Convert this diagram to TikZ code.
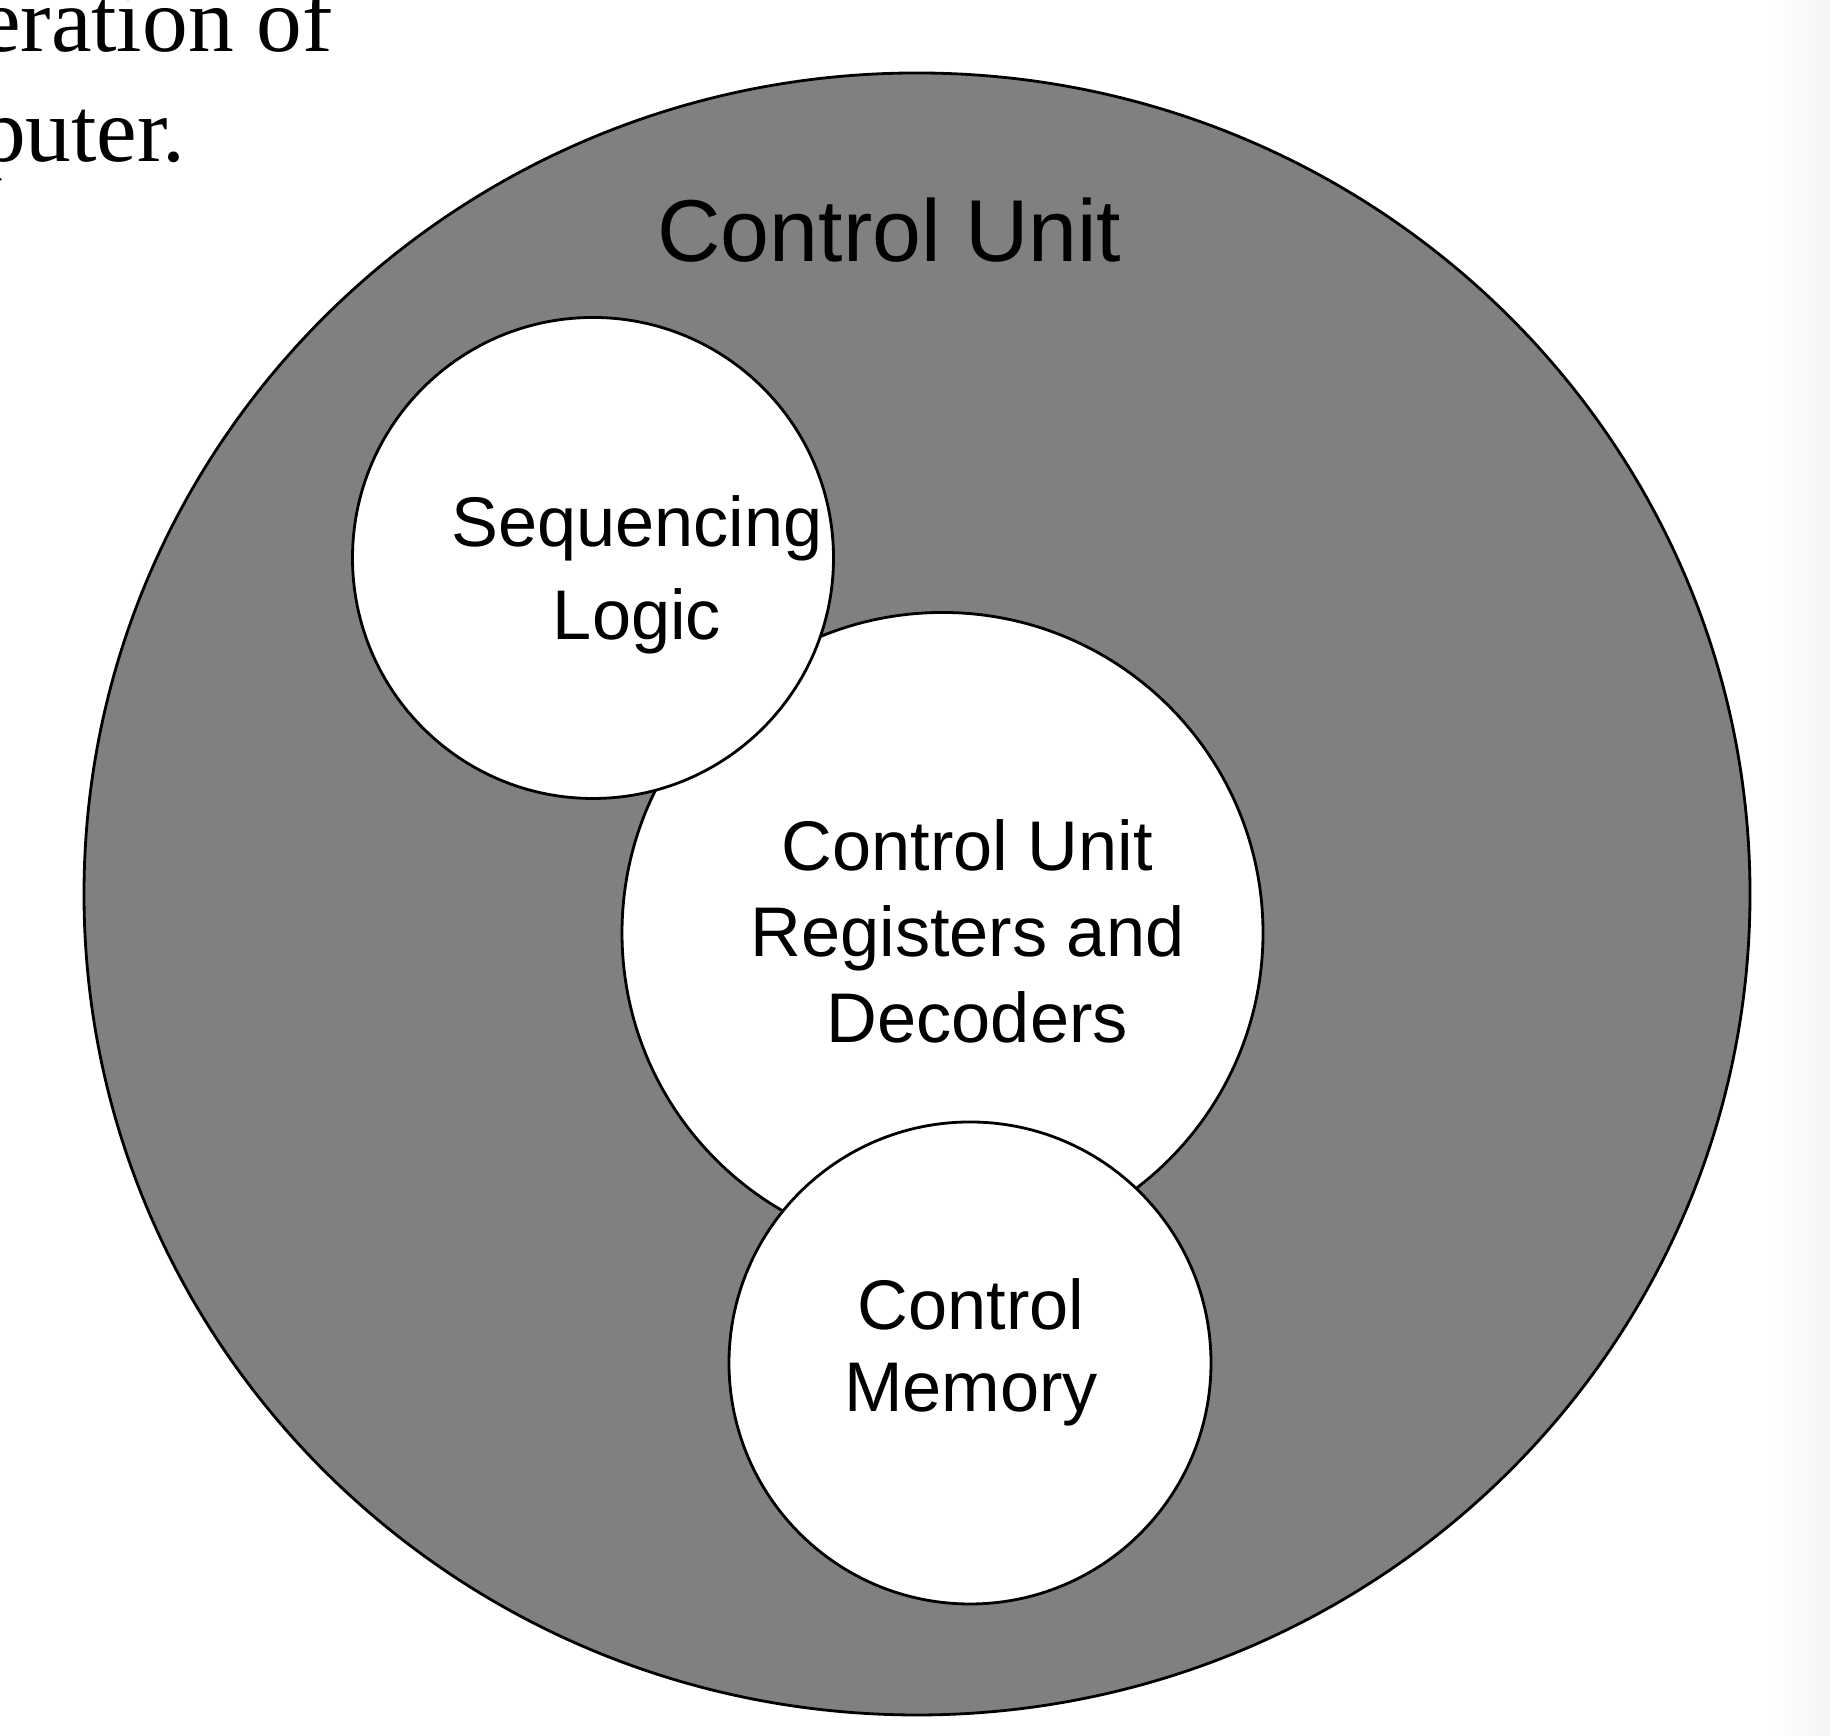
\documentclass[tikz,border=0pt]{standalone}
\usepackage{fontspec}
\setmainfont{Liberation Sans}
\newfontfamily\bookface{Liberation Serif}
\usepackage{tikz}
\usetikzlibrary{shapes.geometric,positioning,calc}
\definecolor{myshade}{RGB}{128,128,128}

\begin{document}
\begin{tikzpicture}[
  every node/.style={inner sep=0pt,outer sep=0pt},
  unitnode/.style={draw,ellipse,fill=myshade,line width=0.8pt},
  partnode/.style={draw,circle,fill=white,line width=0.8pt},
  partlabel/.style={align=center,anchor=base}
]
\clip (0,0) rectangle (18.3,17.36);
\shade[left color=white,right color=black!4] (17.7,0) rectangle (18.3,17.36);

% the text of the page
\node [font=\bookface\fontsize{26}{31.3}\selectfont,align=left,anchor=base west] (page) at (-0.2,15.74) {eration of\\puter.};

% the control unit
\node [unitnode,minimum width=16.66cm,minimum height=16.42cm] (cu) at (9.17,8.42) {};
\node [font=\fontsize{25}{30}\selectfont,anchor=base] (cutitle) at (8.895,14.74) {Control Unit};

% the parts
\node [partnode,minimum size=6.41cm] (reg) at (9.425,8.03) {};
\node [partnode,minimum size=4.81cm] (seq) at (5.93,11.78) {};
\node [partnode,minimum size=4.82cm] (mem) at (9.70,3.73) {};

% the labels of the parts
\node [partlabel,font=\fontsize{20}{26.5}\selectfont] (seqtext) at (6.37,10.96) {Sequencing\\Logic};
\node [partlabel,font=\fontsize{20}{24.6}\selectfont] (regtext) at (9.675,6.93) {Control Unit\\Registers and\\~Decoders};
\node [partlabel,font=\fontsize{20}{23.6}\selectfont] (memtext) at (9.71,3.24) {Control\\Memory};
\end{tikzpicture}
\end{document}
